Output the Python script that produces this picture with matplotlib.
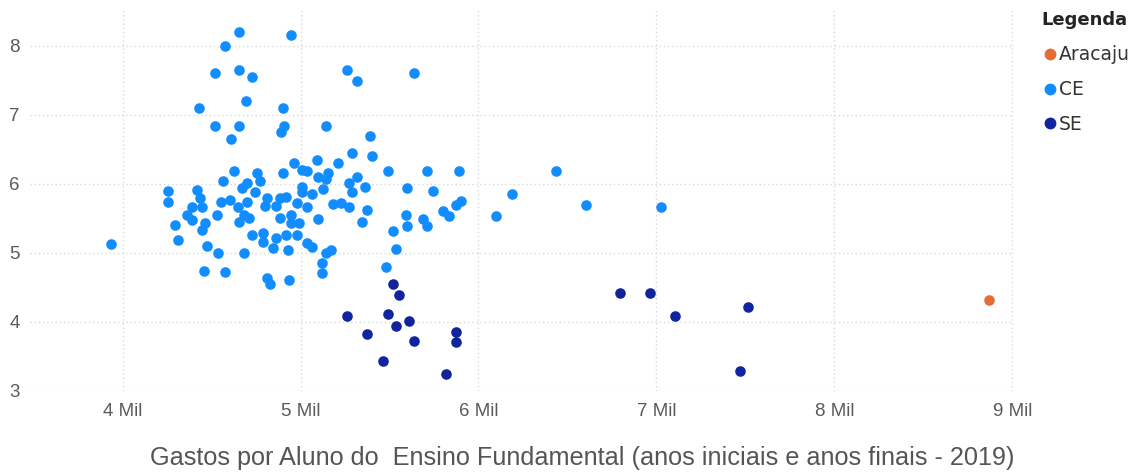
import matplotlib.pyplot as plt
from matplotlib.ticker import FuncFormatter, MultipleLocator

# gasto por aluno (R$) x nota
ce_gasto = [4657, 4944, 4573, 4517, 4657, 4725, 5264, 5320, 5640, 4691,
            4427, 4904, 4522, 4652, 4910, 4893, 5146, 4612, 5388, 5287,
            5399, 5090, 5208, 4966, 4629, 4753, 4567, 4770, 4702, 4669,
            4742, 4899, 5006, 5039, 5096, 5152, 5146, 5315, 5275, 5292,
            5360, 5011, 5011, 5067, 5124, 5494, 5713, 5893, 6438, 5596,
            5747, 6191, 6607, 7028, 4253, 4253, 4416, 4433, 4556, 4601,
            4697, 4809, 4388, 4882, 4921, 4983, 5034, 5180, 5230, 5275,
            5371, 5343, 5590, 5596, 5691, 5713, 5803, 5837, 5871, 5904,
            5517, 5539, 5478, 6096, 4360, 4388, 4292, 4309, 4461, 4449,
            4528, 4472, 4539, 4685, 4455, 4573, 4646, 4798, 4657, 4685,
            4713, 4730, 4787, 4787, 4809, 4882, 4949, 4949, 4994, 5096,
            4865, 4921, 4983, 4843, 4927, 5034, 5062, 5174, 5146, 5118,
            5118, 4826, 4938, 3933, 4865, 4449]
ce_nota = [8.20, 8.16, 8.00, 7.61, 7.65, 7.55, 7.65, 7.49, 7.61, 7.20,
           7.10, 7.10, 6.84, 6.84, 6.84, 6.75, 6.84, 6.65, 6.70, 6.45,
           6.41, 6.35, 6.30, 6.30, 6.19, 6.16, 6.04, 6.04, 6.01, 5.94,
           5.88, 6.16, 6.20, 6.19, 6.10, 6.16, 6.07, 6.10, 6.01, 5.88,
           5.96, 5.96, 5.88, 5.86, 5.93, 6.19, 6.19, 6.19, 6.19, 5.94,
           5.90, 5.86, 5.70, 5.67, 5.90, 5.74, 5.91, 5.80, 5.74, 5.77,
           5.74, 5.80, 5.67, 5.80, 5.81, 5.72, 5.67, 5.71, 5.72, 5.67,
           5.62, 5.45, 5.55, 5.39, 5.49, 5.39, 5.61, 5.54, 5.70, 5.75,
           5.32, 5.06, 4.80, 5.54, 5.55, 5.48, 5.41, 5.19, 5.43, 5.33,
           5.55, 5.10, 5.00, 5.00, 4.74, 4.72, 5.67, 5.68, 5.45, 5.55,
           5.51, 5.26, 5.29, 5.16, 4.64, 5.51, 5.55, 5.43, 5.43, 5.49,
           5.22, 5.26, 5.26, 5.07, 5.04, 5.14, 5.09, 5.04, 5.00, 4.86,
           4.71, 4.55, 4.61, 5.13, 5.68, 5.67]

se_gasto = [5264, 5376, 5466, 5489, 5517, 5539, 5556, 5612, 5635, 5820,
            5871, 5876, 6798, 6966, 7107, 7472, 7517]
se_nota = [4.09, 3.83, 3.43, 4.12, 4.55, 3.94, 4.39, 4.01, 3.72, 3.25,
           3.71, 3.86, 4.42, 4.42, 4.09, 3.29, 4.22]

aju_gasto = [8871]
aju_nota = [4.32]

cor_ce = "#118DFF"
cor_se = "#12239E"
cor_aju = "#E66C37"

fig = plt.figure(figsize=(11.41, 4.75), dpi=100)
ax = fig.add_axes([0.026, 0.177, 0.862, 0.802])

ax.scatter(ce_gasto, ce_nota, s=58, color=cor_ce, linewidths=0, zorder=3)
ax.scatter(se_gasto, se_nota, s=58, color=cor_se, linewidths=0, zorder=3)
ax.scatter(aju_gasto, aju_nota, s=58, color=cor_aju, linewidths=0, zorder=3)

ax.set_xlim(3478, 9005)
ax.set_ylim(3.0, 8.52)
ax.xaxis.set_major_locator(MultipleLocator(1000))
ax.yaxis.set_major_locator(MultipleLocator(1))
ax.xaxis.set_major_formatter(FuncFormatter(lambda v, p: f"{int(round(v / 1000))} Mil"))
ax.yaxis.set_major_formatter(FuncFormatter(lambda v, p: f"{int(v)}"))

for s in ax.spines.values():
    s.set_visible(False)
ax.grid(True, color="#d9d9d9", linestyle=(0, (1, 2)), linewidth=1, zorder=0)
ax.tick_params(length=0, labelsize=13.5, labelcolor="#5a5a5a", pad=9)
ax.tick_params(axis="y", pad=7)
for lbl in ax.get_xticklabels() + ax.get_yticklabels():
    lbl.set_family("Liberation Sans")

# titulo do eixo x fica um pouco a direita do centro no original
fig.text(0.510, 0.036,
         "Gastos por Aluno do  Ensino Fundamental (anos iniciais e anos finais - 2019)",
         fontsize=18.2, color="#555555", family="Liberation Sans",
         ha="center", va="center")

# legenda na ordem do power bi
handles = [plt.Line2D([], [], marker="o", linestyle="", color=c, markersize=7.5)
           for c in (cor_aju, cor_ce, cor_se)]
leg = fig.legend(handles, ["Aracaju", "CE", "SE"], loc="upper left",
                 bbox_to_anchor=(0.901, 1.004), frameon=False, title="Legenda",
                 alignment="left", fontsize=13.5, handletextpad=0.05,
                 handlelength=0.9, labelspacing=0.85, borderpad=0.2)
leg.get_title().set_fontweight("bold")
leg.get_title().set_fontsize(13)
leg.get_title().set_color("#252423")
for t in leg.get_texts():
    t.set_color("#333333")

fig.savefig("out.png", dpi=100)
